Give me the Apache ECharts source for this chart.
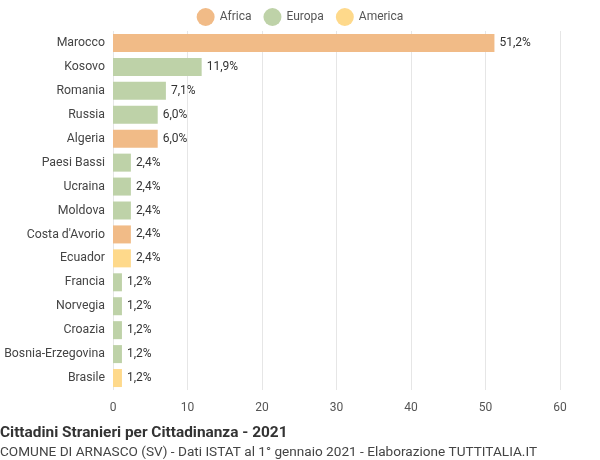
<!DOCTYPE html>
<html><head><meta charset="utf-8">
<script src="https://cdn.jsdelivr.net/npm/echarts@6/dist/echarts.min.js"></script>
<style>html,body{margin:0;padding:0;background:#fff}#c{width:600px;height:460px}</style>
</head><body><div id="c"></div>
<script>
const categories = ["Marocco","Kosovo","Romania","Russia","Algeria","Paesi Bassi","Ucraina","Moldova","Costa d'Avorio","Ecuador","Francia","Norvegia","Croazia","Bosnia-Erzegovina","Brasile"];
const values = [51.2,11.9,7.1,6.0,6.0,2.4,2.4,2.4,2.4,2.4,1.2,1.2,1.2,1.2,1.2];
const continents = ["Africa","Europa","Europa","Europa","Africa","Europa","Europa","Europa","Africa","America","Europa","Europa","Europa","Europa","America"];
const groups = ["Africa","Europa","America"];
const colors = {Africa:"#f1bb87",Europa:"#bed2a8",America:"#fed98b"};
const chart = echarts.init(document.getElementById('c'));
chart.setOption({
  animation:false,
  legend:{top:3,left:'center',itemWidth:18,itemHeight:18,icon:'circle',itemGap:12,textStyle:{color:'#555',fontSize:12,fontFamily:'Roboto'},data:groups},
  grid:{left:113,right:40,top:31,bottom:70},
  xAxis:{type:'value',min:0,max:60,interval:10,axisLine:{show:false},axisTick:{show:false},
    axisLabel:{color:'#555',fontSize:12,fontFamily:'Roboto',margin:12},splitLine:{lineStyle:{color:'#e6e6e6'}}},
  yAxis:{type:'category',inverse:true,data:categories,axisLine:{show:false},axisTick:{show:false},
    axisLabel:{color:'#444',fontSize:12.3,fontFamily:'Roboto'}},
  series:groups.map(g=>({name:g,type:'bar',stack:'s',barWidth:18,itemStyle:{color:colors[g]},
    data:values.map((v,i)=>continents[i]===g?v:'-'),
    label:{show:true,position:'right',color:'#333',fontSize:12,fontFamily:'Roboto',formatter:p=>p.value.toFixed(1).replace('.',',')+'%'}})),
  title:[{text:'Cittadini Stranieri per Cittadinanza - 2021',left:0,top:426,padding:0,textStyle:{fontSize:15.4,fontWeight:'bold',color:'#333',fontFamily:'Roboto'}},
    {text:'COMUNE DI ARNASCO (SV) - Dati ISTAT al 1° gennaio 2021 - Elaborazione TUTTITALIA.IT',left:0,top:446,padding:0,textStyle:{fontSize:13.6,fontWeight:'normal',color:'#444',fontFamily:'Roboto'}}]
});
</script></body></html>
